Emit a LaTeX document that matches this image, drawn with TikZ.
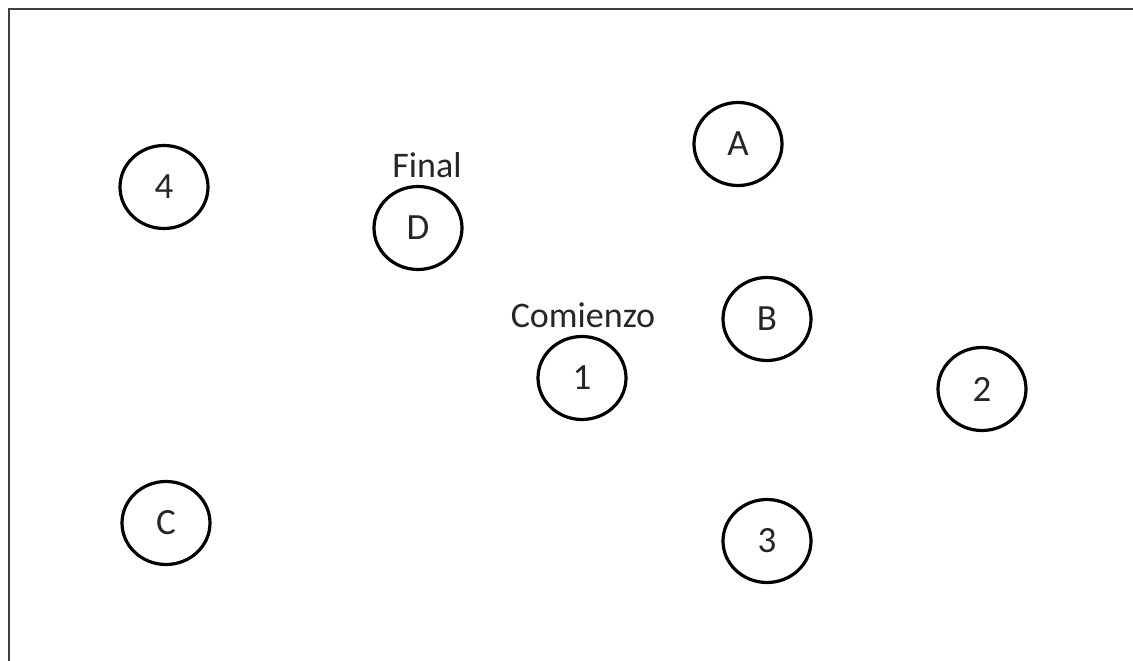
\documentclass[tikz,border=0pt]{standalone}
\usepackage{fontspec}
\setmainfont{Carlito}
\usetikzlibrary{shapes.geometric}
\definecolor{framegray}{HTML}{404040}
\definecolor{txtgray}{HTML}{262626}
\tikzset{
  st/.style={ellipse, draw=black, line width=3.2pt, minimum width=88pt, minimum height=83pt, inner sep=0pt, text=txtgray, font=\fontsize{37}{42}\selectfont},
  lbl/.style={inner sep=0pt, text=txtgray, font=\fontsize{36}{42}\selectfont, anchor=base}
}
\begin{document}
\begin{tikzpicture}[x=1pt,y=-1pt]
\useasboundingbox (0,0) rectangle (1133,661);
\draw[framegray, line width=2.4pt] (9,680) -- (9,9) -- (1150,9);
\node[st] (n4) at (164,187) {4};
\node[st] (nD) at (418,228) {D};
\node[st] (nA) at (738,144) {A};
\node[st] (nB) at (767,319) {B};
\node[st] (n1) at (582,378) {1};
\node[st] (n2) at (982,389) {2};
\node[st] (nC) at (166,523) {C};
\node[st] (n3) at (767,541) {3};
\node[lbl] (final) at (427,177) {Final};
\node[lbl] (comienzo) at (583,327) {Comienzo};
\end{tikzpicture}
\end{document}
